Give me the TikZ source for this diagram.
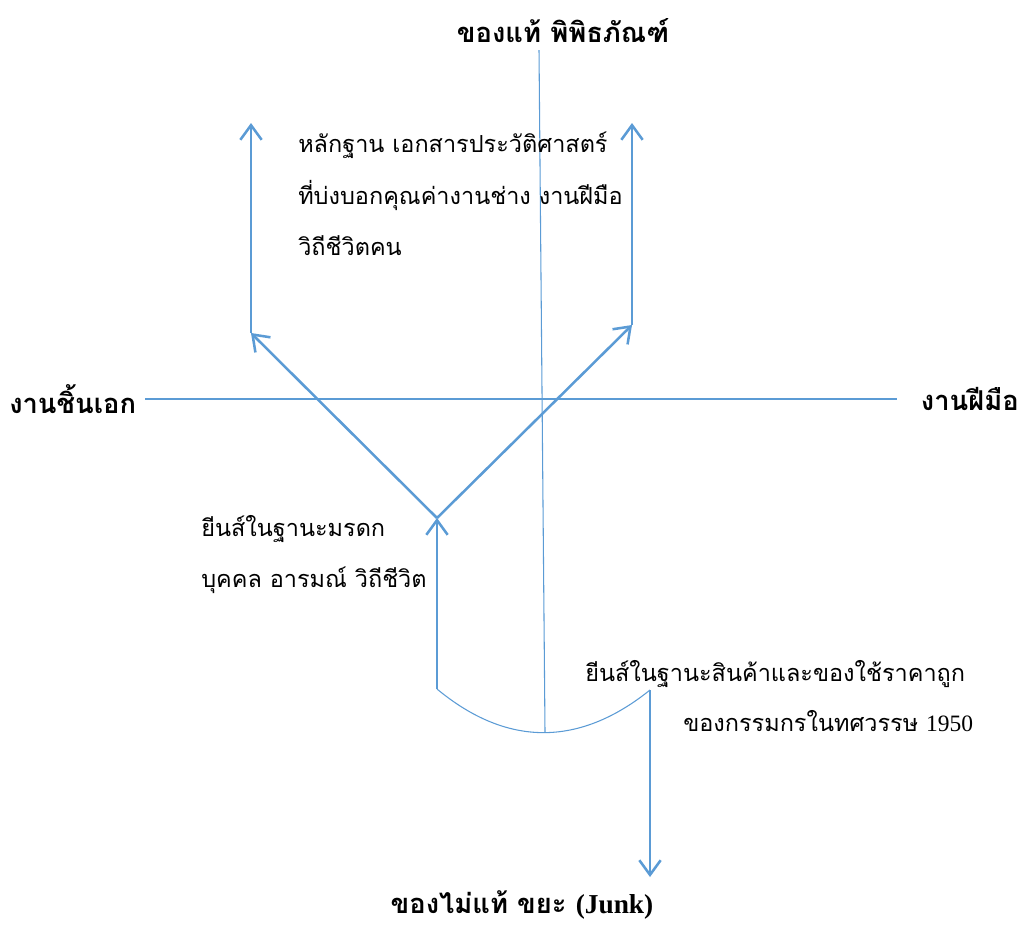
\documentclass[tikz,border=0pt]{standalone}
\usepackage{fontspec}
\newfontfamily\thai[Script=Thai]{Loma}
\newfontfamily\lat{Liberation Serif}
\usetikzlibrary{arrows.meta}
\definecolor{lineblue}{HTML}{5B9BD5}
\tikzset{
  thin line/.style={draw=lineblue, line width=0.8pt},
  thick arrow/.style={draw=lineblue, line width=1.9pt, -{Straight Barb[length=11pt,width=16pt,line width=1.9pt]}},
  body/.style={font=\thai\fontsize{17.6}{20}\selectfont, inner sep=0pt, anchor=base west},
  title/.style={font=\thai\bfseries\fontsize{20.5}{23}\selectfont, inner sep=0pt},
}
\begin{document}
\begin{tikzpicture}[x=0.75pt, y=-0.75pt]
\useasboundingbox (0,0) rectangle (1023,926);
% coordinates
\coordinate (vtop) at (539,50);
\coordinate (vbot) at (545,732);
\coordinate (hleft) at (145,399);
\coordinate (hright) at (897,399);
\coordinate (fork) at (437,518);
\coordinate (stemb) at (437,689);
\coordinate (lmid) at (251,333);
\coordinate (ltop) at (251,123);
\coordinate (rmid) at (632,325);
\coordinate (rtop) at (632,123);
\coordinate (arcend) at (650,690);
\coordinate (down) at (650,877);
% thin axes
\draw[thin line] (vtop) -- (vbot);
\draw[thin line] (hleft) -- (hright);
\draw[thin line] (stemb) .. controls (507,747) and (579,747) .. (arcend);
% arrows
\draw[thick arrow] (stemb) -- (fork);
\draw[thick arrow] (fork) -- (lmid);
\draw[thick arrow] (lmid) -- (ltop);
\draw[thick arrow] (fork) -- (rmid);
\draw[thick arrow] (rmid) -- (rtop);
\draw[thick arrow] (arcend) -- (down);
% titles
\node[title] (ttop) at (563,31) {ของแท้ พิพิธภัณฑ์};
\node[title, anchor=west] (tleft) at (9,399) {งานชิ้นเอก};
\node[title, anchor=east] (tright) at (1019,399) {งานฝีมือ};
\node[title] (tbot) at (522,905) {ของไม่แท้ ขยะ {\lat\bfseries (Junk)}};
% body texts
\node[body] (a1) at (298,152) {หลักฐาน เอกสารประวัติศาสตร์};
\node[body] (a2) at (298,204) {ที่บ่งบอกคุณค่างานช่าง งานฝีมือ};
\node[body] (a3) at (298,255) {วิถีชีวิตคน};
\node[body] (b1) at (201,536) {ยีนส์ในฐานะมรดก};
\node[body] (b2) at (201,587) {บุคคล อารมณ์ วิถีชีวิต};
\node[body] (c1) at (585,681) {ยีนส์ในฐานะสินค้าและของใช้ราคาถูก};
\node[body] (c2) at (683,731) {ของกรรมกรในทศวรรษ {\lat 1950}};
\end{tikzpicture}
\end{document}
